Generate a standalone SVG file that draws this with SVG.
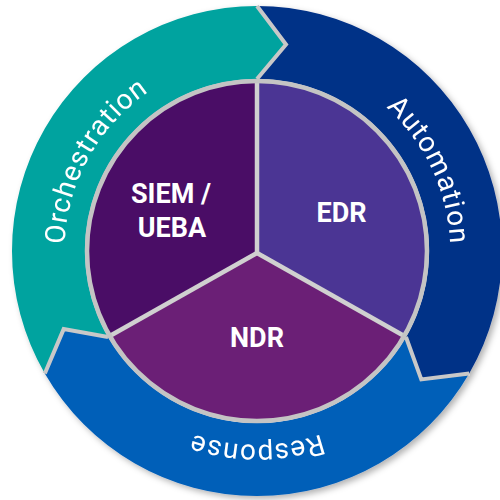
<svg xmlns="http://www.w3.org/2000/svg" xmlns:xlink="http://www.w3.org/1999/xlink" width="500" height="500" viewBox="0 0 500 500">
  <defs>
    <filter id="ringShadow" x="-10%" y="-10%" width="125%" height="125%">
      <feDropShadow dx="3" dy="3" stdDeviation="3" flood-color="#000" flood-opacity="0.3"/>
    </filter>
    <!-- baseline arcs (r=194) for the ring captions, all running clockwise -->
    <path id="arcOrchestration" d="M162.95,420.67 A194,194 0 0 1 351.05,81.33"/>
    <path id="arcAutomation" d="M175.01,75.18 A194,194 0 0 1 338.99,426.82"/>
    <path id="arcResponse" d="M451,251 A194,194 0 0 1 63,251"/>
  </defs>
  <style>
    .seg-teal { fill: #00a39f; }
    .seg-navy { fill: #003087; }
    .seg-blue { fill: #005eb8; }
    .chevron { fill: none; stroke: #c8c8c8; stroke-width: 4; stroke-linejoin: miter; }
    .ring-label { font-family: Roboto, "Liberation Sans", sans-serif; font-size: 28px; font-weight: 400; fill: #ffffff; letter-spacing: 1px; }
    .core-label { font-family: Roboto, "Liberation Sans", sans-serif; font-size: 27px; font-weight: 700; fill: #ffffff; text-anchor: middle; }
    .divider { stroke: #d0d0d0; stroke-width: 4.5; }
  </style>

  <!-- outer ring: three arrow segments chasing each other clockwise -->
  <g id="ring" filter="url(#ringShadow)">
    <g id="orchestration">
      <path class="seg-teal" d="M44.82,373.5 A245,245 0 0 1 257,6 L286.02,44.53 L257,79 A172,172 0 0 0 108.04,337 L63.68,329.11 Z"/>
      <text class="ring-label"><textPath xlink:href="#arcOrchestration" href="#arcOrchestration" startOffset="50%" text-anchor="middle">Orchestration</textPath></text>
    </g>
    <g id="automation">
      <path class="seg-navy" d="M257,6 A245,245 0 0 1 469.18,373.5 L421.30,379.37 L405.96,337 A172,172 0 0 0 257,79 L286.02,44.53 Z"/>
      <text class="ring-label"><textPath xlink:href="#arcAutomation" href="#arcAutomation" startOffset="50%" text-anchor="middle">Automation</textPath></text>
    </g>
    <g id="response">
      <path class="seg-blue" d="M469.18,373.5 A245,245 0 0 1 44.82,373.5 L63.68,329.11 L108.04,337 A172,172 0 0 0 405.96,337 L421.30,379.37 Z"/>
      <text class="ring-label"><textPath xlink:href="#arcResponse" href="#arcResponse" startOffset="50%" text-anchor="middle">Response</textPath></text>
    </g>
    <!-- arrowhead seams -->
    <g id="seams">
      <polyline class="chevron" points="257,6 286.02,44.53 257,79"/>
      <polyline class="chevron" points="469.18,373.5 421.30,379.37 405.96,337"/>
      <polyline class="chevron" points="44.82,373.5 63.68,329.11 108.04,337"/>
    </g>
  </g>

  <!-- inner disc split into three tools -->
  <g id="siem-ueba">
    <path fill="#4a0d66" d="M257,251 L109.78,336 A170,170 0 0 1 257,81 Z"/>
    <text class="core-label" x="171" y="203">SIEM /</text>
    <text class="core-label" x="172" y="237">UEBA</text>
  </g>
  <g id="edr">
    <path fill="#4b3594" d="M257,251 L257,81 A170,170 0 0 1 404.22,336 Z"/>
    <text class="core-label" x="341.5" y="222">EDR</text>
  </g>
  <g id="ndr">
    <path fill="#6b1f76" d="M257,251 L404.22,336 A170,170 0 0 1 109.78,336 Z"/>
    <text class="core-label" x="257" y="347">NDR</text>
  </g>

  <g id="connectors">
    <line class="divider" x1="257" y1="253" x2="257" y2="81"/>
    <line class="divider" x1="257" y1="253" x2="404.22" y2="336"/>
    <line class="divider" x1="257" y1="253" x2="109.78" y2="336"/>
    <circle cx="257" cy="251" r="170" fill="none" stroke="#c4c4c4" stroke-width="4.5"/>
  </g>
</svg>
